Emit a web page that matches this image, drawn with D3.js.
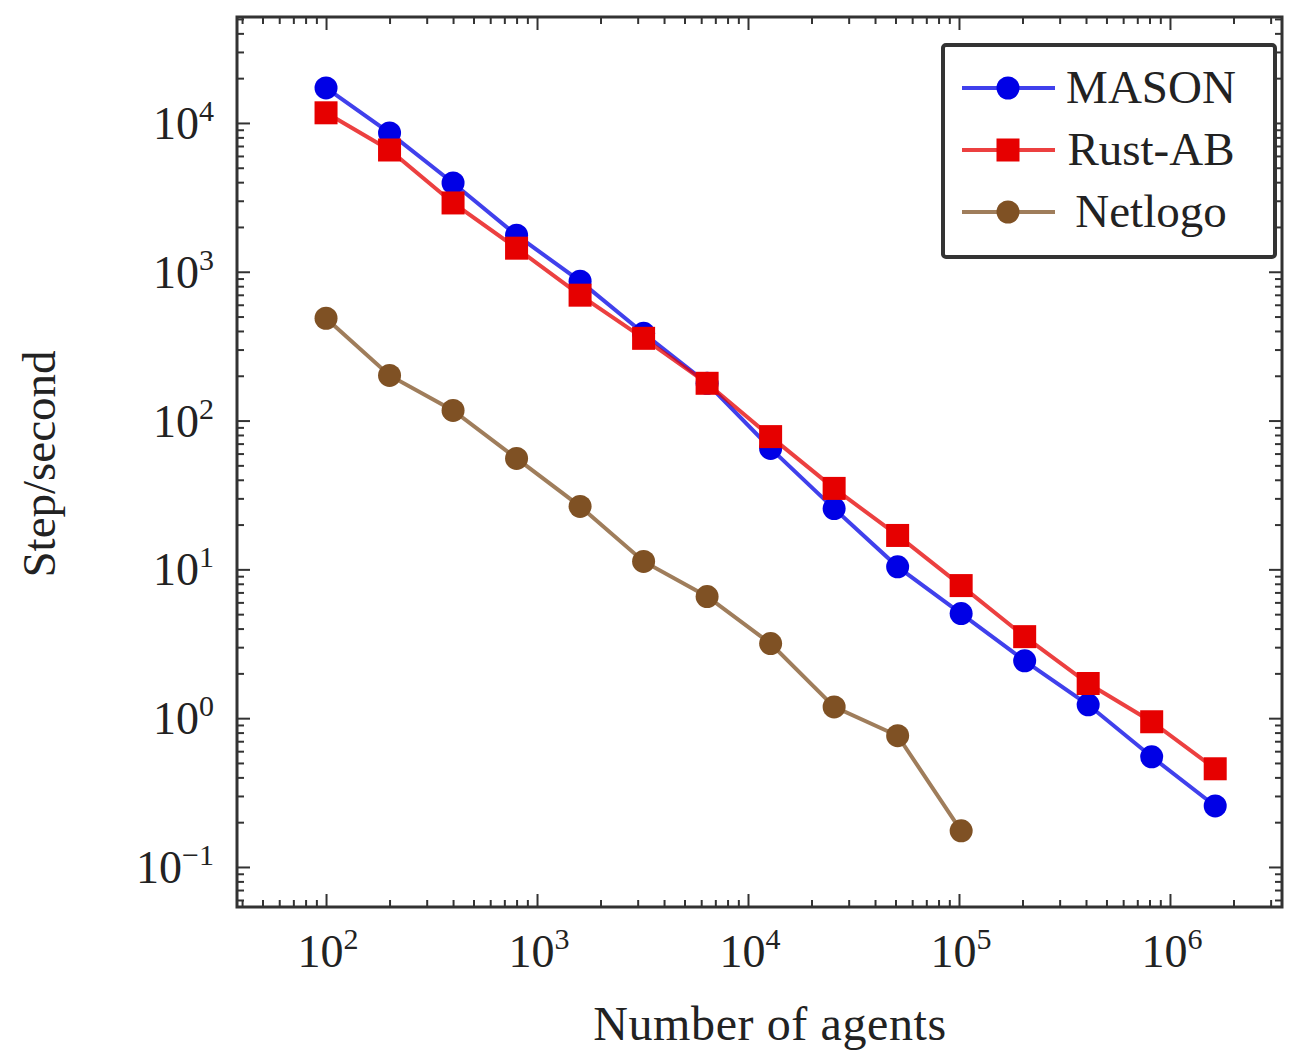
<!DOCTYPE html>
<html>
<head>
<meta charset="utf-8">
<script src="https://cdn.jsdelivr.net/npm/d3@7"></script>
<style>
  body { margin: 0; background: #fff; }
  svg text { font-family: "Liberation Serif", "DejaVu Serif", serif; fill: #222; }
</style>
</head>
<body>
<svg id="chart" width="1290" height="1052"></svg>
<script>
// number of agents (x) and step/second for each simulator
const agents = [100, 200, 400, 800, 1600, 3200, 6400, 12800, 25600, 51200, 102400, 204800, 409600, 819200, 1638400];
const masonSteps = [17200, 8570, 3950, 1760, 865, 386, 178, 65, 25.6, 10.4, 5.05, 2.43, 1.23, 0.55, 0.257];
const rustabSteps = [11700, 6580, 2900, 1440, 696, 357, 178, 78, 35, 16.9, 7.78, 3.53, 1.71, 0.946, 0.457];
const netlogoAgents = [100, 200, 400, 800, 1600, 3200, 6400, 12800, 25600, 51200, 102400];
const netlogoSteps = [487, 201, 117, 55.7, 26.5, 11.3, 6.57, 3.17, 1.19, 0.762, 0.175];

const xMajor = [2, 3, 4, 5, 6];      // exponents of 10
const yMajor = [-1, 0, 1, 2, 3, 4];

const series = [
  { name: "MASON",   x: agents,        y: masonSteps,   color: "#0000e6", mark: "circle" },
  { name: "Rust-AB", x: agents,        y: rustabSteps,  color: "#e60000", mark: "square" },
  { name: "Netlogo", x: netlogoAgents, y: netlogoSteps, color: "#7f5124", mark: "circle" }
];

const svg = d3.select('#chart');
const plot = { left: 237, right: 1282, top: 17, bottom: 907 };

const xScale = d3.scaleLog()
    .domain([Math.pow(10, 1.578), Math.pow(10, 6.531)])
    .range([plot.left, plot.right]);
const yScale = d3.scaleLog()
    .domain([Math.pow(10, -1.269), Math.pow(10, 4.712)])
    .range([plot.bottom, plot.top]);

function minorTicks(scale) {
    const [a, b] = scale.domain();
    const out = [];
    for (let e = Math.floor(Math.log10(a)); e <= Math.ceil(Math.log10(b)); e++) {
        for (let m = 2; m <= 9; m++) {
            const v = m * Math.pow(10, e);
            if (v > a && v < b) out.push(v);
        }
    }
    return out;
}
const xMajorVals = xMajor.map(e => Math.pow(10, e));
const yMajorVals = yMajor.map(e => Math.pow(10, e));

// ticks on all four sides, pointing inward
function addAxis(axisFn, scale, vals, size, transform) {
    svg.append('g')
        .attr('transform', transform)
        .call(axisFn(scale).tickValues(vals).tickSize(-size).tickFormat(''))
        .call(g => g.select('.domain').remove())
        .selectAll('line').attr('stroke', '#333').attr('stroke-width', 2);
}
addAxis(d3.axisBottom, xScale, xMajorVals, 13, `translate(0,${plot.bottom})`);
addAxis(d3.axisBottom, xScale, minorTicks(xScale), 7, `translate(0,${plot.bottom})`);
addAxis(d3.axisTop, xScale, xMajorVals, 13, `translate(0,${plot.top})`);
addAxis(d3.axisTop, xScale, minorTicks(xScale), 7, `translate(0,${plot.top})`);
addAxis(d3.axisLeft, yScale, yMajorVals, 13, `translate(${plot.left},0)`);
addAxis(d3.axisLeft, yScale, minorTicks(yScale), 7, `translate(${plot.left},0)`);
addAxis(d3.axisRight, yScale, yMajorVals, 13, `translate(${plot.right},0)`);
addAxis(d3.axisRight, yScale, minorTicks(yScale), 7, `translate(${plot.right},0)`);

// frame
svg.append('rect')
    .attr('x', plot.left).attr('y', plot.top)
    .attr('width', plot.right - plot.left).attr('height', plot.bottom - plot.top)
    .attr('fill', 'none').attr('stroke', '#333').attr('stroke-width', 3);

// tick labels 10^k
function powLabel(sel, e) {
    sel.append('tspan').text('10');
    sel.append('tspan').attr('dy', -18).attr('font-size', 30).text(e < 0 ? '\u2212' + (-e) : e);
}
xMajor.forEach(e => {
    svg.append('text')
        .attr('x', xScale(Math.pow(10, e)) + 2)
        .attr('y', 967)
        .attr('text-anchor', 'middle')
        .attr('font-size', 46)
        .call(powLabel, e);
});
yMajor.forEach(e => {
    svg.append('text')
        .attr('x', 214)
        .attr('y', yScale(Math.pow(10, e)) + 16)
        .attr('text-anchor', 'end')
        .attr('font-size', 46)
        .call(powLabel, e);
});

// axis titles
svg.append('text')
    .attr('x', 770).attr('y', 1040)
    .attr('text-anchor', 'middle')
    .attr('font-size', 48)
    .attr('letter-spacing', 0.6)
    .text('Number of agents');
svg.append('text')
    .attr('transform', 'translate(55,464) rotate(-90)')
    .attr('text-anchor', 'middle')
    .attr('font-size', 47)
    .text('Step/second');

// lines and marks
const line = d3.line().x(d => xScale(d[0])).y(d => yScale(d[1]));

function drawMark(g, type, color, cx, cy) {
    if (type === 'circle') {
        g.append('circle').attr('cx', cx).attr('cy', cy).attr('r', 11.5).attr('fill', color);
    } else {
        g.append('rect').attr('x', cx - 11.5).attr('y', cy - 11.5)
            .attr('width', 23).attr('height', 23).attr('fill', color);
    }
}

series.forEach(s => {
    const pts = s.x.map((x, i) => [x, s.y[i]]);
    const g = svg.append('g');
    g.append('path')
        .datum(pts)
        .attr('d', line)
        .attr('fill', 'none')
        .attr('stroke', s.color)
        .attr('stroke-opacity', 0.75)
        .attr('stroke-width', 4);
    pts.forEach(p => drawMark(g, s.mark, s.color, xScale(p[0]), yScale(p[1])));
});

// legend
const legend = svg.append('g');
legend.append('rect')
    .attr('x', 943).attr('y', 45).attr('width', 332).attr('height', 212)
    .attr('rx', 3)
    .attr('fill', '#fff').attr('stroke', '#333').attr('stroke-width', 4);
series.forEach((s, i) => {
    const y = 88 + i * 62;
    legend.append('line')
        .attr('x1', 962).attr('x2', 1055).attr('y1', y).attr('y2', y)
        .attr('stroke', s.color).attr('stroke-opacity', 0.75).attr('stroke-width', 4);
    drawMark(legend, s.mark, s.color, 1008, y);
    legend.append('text')
        .attr('x', 1151).attr('y', y + 15)
        .attr('text-anchor', 'middle')
        .attr('font-size', 47)
        .text(s.name);
});
</script>
</body>
</html>
